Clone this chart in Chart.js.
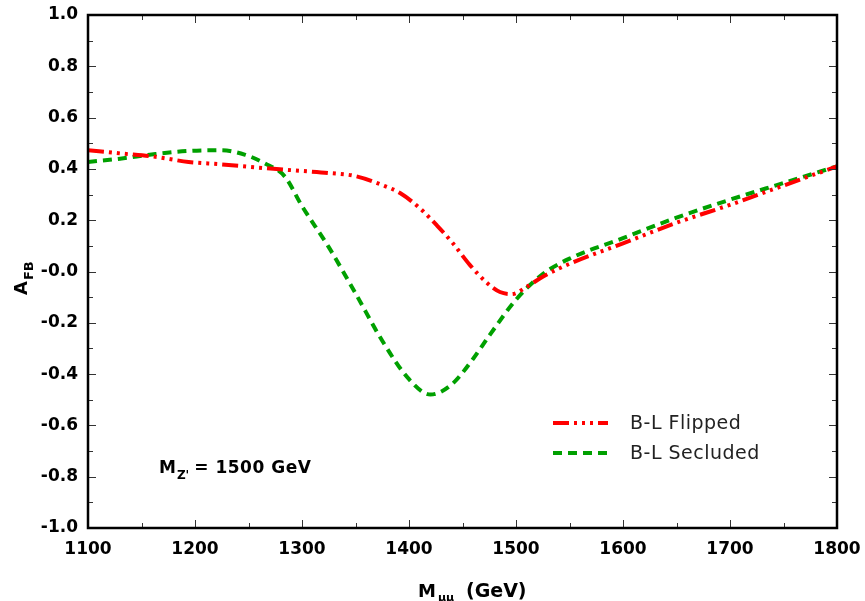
<!DOCTYPE html>
<html>
<head>
  <script src="https://cdn.jsdelivr.net/npm/chart.js"></script>
  <style>
    body { margin: 0; background: #fff; }
  </style>
</head>
<body>
  <div style="width:865px;height:601px">
    <canvas id="afbChart" width="865" height="601"></canvas>
  </div>

  <script>
    // values
    const flippedMass = [1100, 1131, 1163, 1194, 1224, 1256, 1300, 1325, 1350, 1375, 1392, 1410, 1426, 1441, 1457, 1473, 1485, 1496, 1510, 1525, 1550, 1600, 1650, 1700, 1750, 1800];
    const flippedAfb  = [0.473, 0.46, 0.447, 0.427, 0.418, 0.406, 0.392, 0.384, 0.372, 0.337, 0.305, 0.247, 0.18, 0.11, 0.025, -0.045, -0.08, -0.088, -0.06, -0.02, 0.03, 0.11, 0.19, 0.26, 0.335, 0.41];

    const secludedMass = [1100, 1130, 1163, 1194, 1224, 1247, 1265, 1284, 1300, 1325, 1350, 1375, 1400, 1420, 1440, 1460, 1475, 1500, 1525, 1550, 1600, 1650, 1700, 1750, 1800];
    const secludedAfb  = [0.427, 0.44, 0.458, 0.47, 0.473, 0.455, 0.422, 0.37, 0.255, 0.095, -0.085, -0.27, -0.42, -0.48, -0.44, -0.34, -0.25, -0.11, -0.01, 0.05, 0.13, 0.21, 0.28, 0.345, 0.41];

    const seriesNames = ['B-L Flipped', 'B-L Secluded'];
    const noteText = '1500 GeV';

    const toPoints = (xs, ys) => xs.map((x, i) => ({ x: x, y: ys[i] }));

    const FONT = '"DejaVu Sans", Verdana, sans-serif';
    const boldFont = { family: FONT, size: 17, weight: 'bold' };

    // frame, inward ticks, titles, legend and note
    const decorations = {
      id: 'decorations',
      afterDraw(chart) {
        const ctx = chart.ctx;
        const a = chart.chartArea;
        const xs = chart.scales.x, ys = chart.scales.y;
        ctx.save();

        // ticks on all four sides
        ctx.strokeStyle = '#333';
        ctx.lineWidth = 1;
        for (let v = 1100; v <= 1800; v += 50) {
          const px = Math.round(xs.getPixelForValue(v)) + 0.5;
          const len = (v % 100 === 0) ? 8 : 5;
          ctx.beginPath();
          ctx.moveTo(px, a.bottom); ctx.lineTo(px, a.bottom - len);
          ctx.moveTo(px, a.top); ctx.lineTo(px, a.top + len);
          ctx.stroke();
        }
        for (let k = -10; k <= 10; k++) {
          const v = k / 10;
          const py = Math.round(ys.getPixelForValue(v)) + 0.5;
          const len = (k % 2 === 0) ? 8 : 5;
          ctx.beginPath();
          ctx.moveTo(a.left, py); ctx.lineTo(a.left + len, py);
          ctx.moveTo(a.right, py); ctx.lineTo(a.right - len, py);
          ctx.stroke();
        }

        // frame
        ctx.strokeStyle = '#000';
        ctx.lineWidth = 2.5;
        ctx.strokeRect(a.left, a.top, a.right - a.left, a.bottom - a.top);

        // x axis title: M_mumu (GeV)
        ctx.fillStyle = '#000';
        ctx.textBaseline = 'alphabetic';
        ctx.textAlign = 'left';
        ctx.font = 'bold 18px ' + FONT;
        ctx.fillText('M', 418, 597);
        ctx.font = 'bold 11px ' + FONT;
        ctx.fillText('\u03bc\u03bc', 438, 601);
        ctx.font = 'bold 19px ' + FONT;
        ctx.fillText('(GeV)', 466, 597);

        // y axis title: A_FB
        ctx.save();
        ctx.translate(27, 295);
        ctx.rotate(-Math.PI / 2);
        ctx.font = 'bold 18px ' + FONT;
        ctx.fillText('A', 0, 0);
        const aw = ctx.measureText('A').width;
        ctx.font = 'bold 13px ' + FONT;
        ctx.fillText('FB', aw + 1, 6);
        ctx.restore();

        // note M_Z' = 1500 GeV
        let x = 159;
        ctx.font = 'bold 17px ' + FONT;
        ctx.fillText('M', x, 473);
        x += ctx.measureText('M').width + 1;
        ctx.font = 'bold 12px ' + FONT;
        ctx.fillText("Z'", x, 479);
        x += ctx.measureText("Z'").width + 5;
        ctx.font = 'bold 17px ' + FONT;
        ctx.letterSpacing = '0.5px';
        ctx.fillText('= ' + noteText, x, 473);
        ctx.letterSpacing = '0px';

        // legend
        const rows = [423, 453];
        chart.data.datasets.forEach((ds, i) => {
          const y = rows[i];
          ctx.save();
          ctx.strokeStyle = ds.borderColor;
          ctx.lineWidth = ds.borderWidth;
          ctx.setLineDash(ds.borderDash);
          ctx.beginPath();
          ctx.moveTo(553, y); ctx.lineTo(608, y);
          ctx.stroke();
          ctx.restore();
          ctx.fillStyle = '#222';
          ctx.font = '19px ' + FONT;
          ctx.letterSpacing = '0.5px';
          ctx.textBaseline = 'middle';
          ctx.fillText(ds.label, 630, y + 1);
          ctx.letterSpacing = '0px';
        });

        ctx.restore();
      }
    };

    const ctx = document.getElementById('afbChart').getContext('2d');
    const afbChart = new Chart(ctx, {
      type: 'line',
      data: {
        datasets: [{
          label: seriesNames[0],
          data: toPoints(flippedMass, flippedAfb),
          borderColor: '#ff0000',
          borderWidth: 4,
          borderDash: [16, 5, 3, 5, 3, 5, 3, 5],
          cubicInterpolationMode: 'monotone',
          pointRadius: 0,
          fill: false,
        }, {
          label: seriesNames[1],
          data: toPoints(secludedMass, secludedAfb),
          borderColor: '#00a000',
          borderWidth: 4,
          borderDash: [9, 6],
          cubicInterpolationMode: 'monotone',
          pointRadius: 0,
          fill: false,
        }],
      },
      options: {
        responsive: false,
        animation: false,
        layout: { padding: { left: 0, top: 15, right: 28, bottom: 0 } },
        plugins: {
          legend: { display: false },
          tooltip: { enabled: false },
        },
        scales: {
          x: {
            type: 'linear',
            min: 1100,
            max: 1800,
            afterFit(scale) {
              scale.height = 73;
              scale.paddingLeft = 0;
              scale.paddingRight = 0;
            },
            grid: { display: false, drawTicks: false },
            border: { display: false },
            ticks: {
              stepSize: 100,
              padding: 11,
              color: '#000',
              font: boldFont,
              maxRotation: 0,
              callback: (v) => String(v),
            },
          },
          y: {
            min: -1,
            max: 1,
            afterFit(scale) {
              scale.width = 88;
              scale.paddingTop = 0;
              scale.paddingBottom = 0;
            },
            grid: { display: false, drawTicks: false },
            border: { display: false },
            ticks: {
              stepSize: 0.2,
              padding: 10,
              color: '#000',
              font: boldFont,
              callback: (v) => Math.abs(v) < 1e-9 ? '-0.0' : v.toFixed(1),
            },
          },
        },
      },
      plugins: [decorations],
    });
  </script>
</body>
</html>
